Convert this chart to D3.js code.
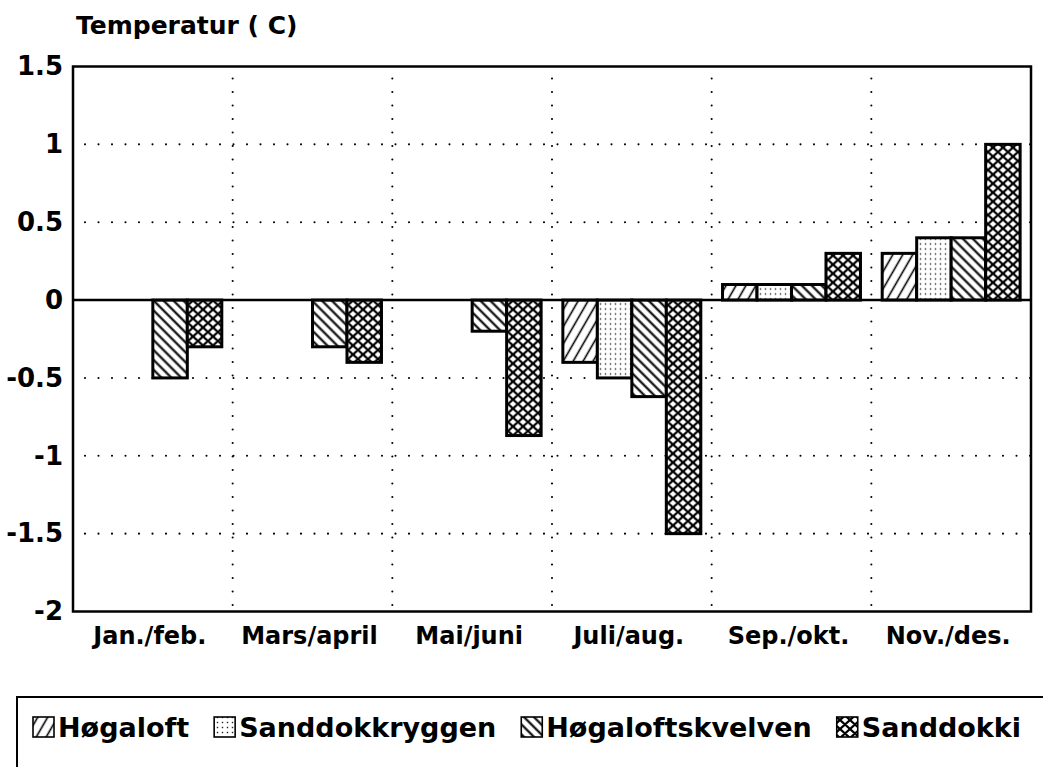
<!DOCTYPE html>
<html>
<head>
<meta charset="utf-8">
<script src="https://cdn.jsdelivr.net/npm/d3@7"></script>
<style>
  html, body { margin: 0; padding: 0; background: #fff; }
  svg { display: block; }
  text { font-family: "DejaVu Sans", sans-serif; font-weight: bold; fill: #000; }
</style>
</head>
<body>
<svg id="chart" width="1043" height="767"></svg>
<script>
const categories = ["Jan./feb.", "Mars/april", "Mai/juni", "Juli/aug.", "Sep./okt.", "Nov./des."];
const seriesNames = ["Høgaloft", "Sanddokkryggen", "Høgaloftskvelven", "Sanddokki"];
const hogaloft         = [null, null, null, -0.40, 0.10, 0.30];
const sanddokkryggen   = [null, null, null, -0.50, 0.10, 0.40];
const hogaloftskvelven = [-0.50, -0.30, -0.20, -0.62, 0.10, 0.40];
const sanddokki        = [-0.30, -0.40, -0.87, -1.50, 0.30, 1.00];
const yTicks = [1.5, 1, 0.5, 0, -0.5, -1, -1.5, -2];
const yTickLabels = ["1.5", "1", "0.5", "0", "-0.5", "-1", "-1.5", "-2"];
const gridValues = [1, 0.5, -0.5, -1, -1.5];
const yTitle = "Temperatur ( C)";

const seriesValues = [hogaloft, sanddokkryggen, hogaloftskvelven, sanddokki];
const patternIds = ["pHog", "pSandKr", "pHogKv", "pSandDk"];

const W = 1043, H = 767;
const margin = { left: 73, right: 12, top: 66.5, bottom: 155.5 };
const iw = W - margin.left - margin.right;
const ih = H - margin.top - margin.bottom;

const svg = d3.select("#chart");
svg.append("rect").attr("width", W).attr("height", H).attr("fill", "#fff");

// patterns
const defs = svg.append("defs");
function linePattern(id, spacing, angle, sw) {
  const p = defs.append("pattern").attr("id", id)
    .attr("patternUnits", "userSpaceOnUse")
    .attr("width", spacing).attr("height", spacing)
    .attr("patternTransform", `rotate(${angle})`);
  p.append("rect").attr("width", spacing).attr("height", spacing).attr("fill", "#fff");
  p.append("line").attr("x1", spacing / 2).attr("x2", spacing / 2)
    .attr("y1", -1).attr("y2", spacing + 1)
    .attr("stroke", "#000").attr("stroke-width", sw);
}
linePattern("pHog", 8.6, 30, 1.6);
linePattern("pHogKv", 7, -45, 2.1);
{
  const p = defs.append("pattern").attr("id", "pSandKr")
    .attr("patternUnits", "userSpaceOnUse").attr("width", 5).attr("height", 5);
  p.append("rect").attr("width", 5).attr("height", 5).attr("fill", "#fff");
  p.append("rect").attr("x", 1.8).attr("y", 1.8).attr("width", 1.4).attr("height", 1.4).attr("fill", "#222");
}
{
  const s = 10;
  const h = s * 0.9;
  const p = defs.append("pattern").attr("id", "pSandDk")
    .attr("patternUnits", "userSpaceOnUse").attr("width", s).attr("height", h);
  p.append("rect").attr("width", s).attr("height", h).attr("fill", "#fff");
  const d = `M${-s/2},${-h/2} L${s*1.5},${h*1.5} M${s*1.5},${-h/2} L${-s/2},${h*1.5}` +
            ` M${-s/2},${h/2} L${s/2},${-h/2} M${s/2},${h*1.5} L${s*1.5},${h/2}` +
            ` M${s/2},${-h/2} L${s*1.5},${h/2} M${-s/2},${h/2} L${s/2},${h*1.5}`;
  p.append("path").attr("d", d).attr("stroke", "#000").attr("stroke-width", 2.2).attr("fill", "none");
}

const g = svg.append("g").attr("transform", `translate(${margin.left},${margin.top})`);

const x0 = d3.scaleBand().domain(categories).range([0, iw]).paddingInner(0).paddingOuter(0);
const x1 = d3.scaleBand().domain(seriesNames).range([0, x0.bandwidth()]).paddingInner(0).paddingOuter(0.315);
const y = d3.scaleLinear().domain([-2, 1.5]).range([ih, 0]);

// dotted grid
const dotted = { stroke: "#000", "stroke-width": 2.1, "stroke-dasharray": "0,13.5", "stroke-linecap": "round" };
const hg = g.append("g").selectAll("line").data(gridValues).join("line")
  .attr("x1", 12).attr("x2", iw).attr("y1", d => y(d)).attr("y2", d => y(d));
Object.entries(dotted).forEach(([k, v]) => hg.attr(k, v));
const vg = g.append("g").selectAll("line").data(categories.slice(1)).join("line")
  .attr("x1", d => x0(d)).attr("x2", d => x0(d)).attr("y1", 12).attr("y2", ih);
Object.entries(dotted).forEach(([k, v]) => vg.attr(k, v));

// bars
const barData = [];
categories.forEach((c, ci) => {
  seriesNames.forEach((s, si) => {
    const v = seriesValues[si][ci];
    if (v !== null && v !== undefined) barData.push({ c, s, si, v });
  });
});
g.append("g").selectAll("rect").data(barData).join("rect")
  .attr("x", d => x0(d.c) + x1(d.s))
  .attr("width", x1.bandwidth())
  .attr("y", d => Math.min(y(d.v), y(0)))
  .attr("height", d => Math.abs(y(d.v) - y(0)))
  .attr("fill", d => `url(#${patternIds[d.si]})`)
  .attr("stroke", "#000").attr("stroke-width", 3);

// zero line
g.append("line").attr("x1", 0).attr("x2", iw).attr("y1", y(0)).attr("y2", y(0))
  .attr("stroke", "#000").attr("stroke-width", 2.5);

// frame
g.append("rect").attr("x", 0).attr("y", 0).attr("width", iw).attr("height", ih)
  .attr("fill", "none").attr("stroke", "#000").attr("stroke-width", 2.5);

// y axis labels
const yAxis = d3.axisLeft(y).tickValues(yTicks).tickSize(0).tickPadding(10)
  .tickFormat((d, i) => yTickLabels[i]);
const ya = g.append("g").call(yAxis);
ya.select(".domain").remove();
ya.selectAll("text").style("font-family", "DejaVu Sans").style("font-weight", "bold")
  .style("font-size", "26px").attr("fill", "#000");

// x axis labels
const xAxis = d3.axisBottom(x0).tickSize(0).tickPadding(15);
const xa = g.append("g").attr("transform", `translate(-3,${ih})`).call(xAxis);
xa.select(".domain").remove();
xa.selectAll("text").style("font-family", "DejaVu Sans").style("font-weight", "bold")
  .style("font-size", "24px").attr("fill", "#000");

// y title
svg.append("text").attr("x", 76).attr("y", 34).style("font-size", "25px").text(yTitle);

// legend
const lg = svg.append("g");
lg.append("rect").attr("x", 17).attr("y", 697).attr("width", 1100).attr("height", 200)
  .attr("fill", "none").attr("stroke", "#000").attr("stroke-width", 2);
let lx = 33;
seriesNames.forEach((s, i) => {
  lg.append("rect").attr("x", lx).attr("y", 717).attr("width", 21).attr("height", 20)
    .attr("fill", `url(#${patternIds[i]})`).attr("stroke", "#000").attr("stroke-width", 1.6);
  const t = lg.append("text").attr("x", lx + 25).attr("y", 737).style("font-size", "27px").text(s);
  lx = lx + 25 + t.node().getComputedTextLength() + 25;
});
</script>
</body>
</html>
